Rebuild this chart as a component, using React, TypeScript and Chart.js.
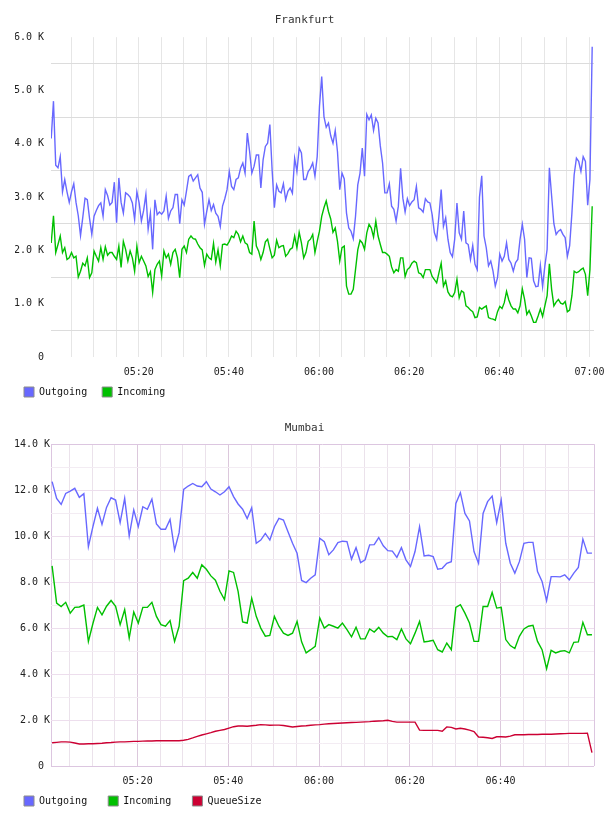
import React, { useEffect, useRef } from 'react';
import { Chart, registerables } from 'chart.js';

Chart.register(...registerables);

const FONT = '"DejaVu Sans Mono", monospace';

// ---- time axis (minutes after 05:00) ----
const frankfurtStartMinute = 0.6;
const frankfurtStepMinutes = 0.5;
const mumbaiStartMinute = 1.15;
const mumbaiStepMinutes = 1;
const timeTickLabels = ['05:20', '05:40', '06:00', '06:20', '06:40', '07:00'];
const frankfurtYTickLabels = ['0', '1.0 K', '2.0 K', '3.0 K', '4.0 K', '5.0 K', '6.0 K'];
const mumbaiYTickLabels = ['0 ', '2.0 K', '4.0 K', '6.0 K', '8.0 K', '10.0 K', '12.0 K', '14.0 K'];
const frankfurtSeriesNames = ['Outgoing', 'Incoming'];
const mumbaiSeriesNames = ['Outgoing', 'Incoming', 'QueueSize'];

// ---- Frankfurt (values in thousands) ----
const frankfurtOutgoingK = [
  4.10, 4.80, 3.60, 3.55, 3.76, 3.10, 3.33, 3.10, 2.90, 3.10,
  3.25, 2.90, 2.65, 2.28, 2.62, 2.98, 2.95, 2.60, 2.30, 2.64,
  2.75, 2.84, 2.89, 2.64, 3.14, 3.03, 2.85, 2.90, 3.28, 2.52,
  3.36, 2.90, 2.70, 3.08, 3.05, 3.00, 2.89, 2.58, 3.10, 2.89,
  2.55, 2.75, 3.05, 2.40, 2.70, 2.02, 2.95, 2.67, 2.72, 2.68,
  2.74, 3.02, 2.60, 2.74, 2.80, 3.05, 3.05, 2.50, 2.95, 2.85,
  3.11, 3.39, 3.42, 3.30, 3.36, 3.42, 3.17, 3.09, 2.49, 2.73,
  2.95, 2.75, 2.86, 2.70, 2.64, 2.45, 2.83, 2.97, 3.14, 3.48,
  3.20, 3.14, 3.33, 3.36, 3.54, 3.64, 3.45, 4.20, 3.86, 3.45,
  3.58, 3.79, 3.79, 3.17, 3.70, 3.95, 4.01, 4.36, 3.51, 2.80,
  3.23, 3.11, 3.08, 3.25, 2.95, 3.11, 3.17, 3.07, 3.73, 3.48,
  3.92, 3.83, 3.33, 3.33, 3.48, 3.54, 3.64, 3.39, 3.76, 4.70,
  5.26, 4.51, 4.31, 4.39, 4.15, 4.01, 4.25, 3.85, 3.14, 3.45,
  3.34, 2.70, 2.42, 2.36, 2.22, 2.64, 3.23, 3.45, 3.92, 3.39,
  4.55, 4.45, 4.54, 4.25, 4.48, 4.39, 3.96, 3.64, 3.08, 3.08,
  3.25, 2.83, 2.77, 2.55, 2.83, 3.54, 2.98, 2.72, 2.97, 2.84,
  2.91, 2.95, 3.20, 2.80, 2.77, 2.72, 2.97, 2.91, 2.89, 2.67,
  2.33, 2.21, 2.64, 3.14, 2.45, 2.61, 2.21, 1.96, 1.88, 2.21,
  2.89, 2.33, 2.21, 2.74, 2.14, 2.11, 1.83, 2.09, 1.74, 1.64,
  3.00, 3.40, 2.27, 2.05, 1.71, 1.80, 1.61, 1.33, 1.49, 1.93,
  1.80, 1.89, 2.14, 1.83, 1.76, 1.61, 1.77, 1.83, 2.21, 2.49,
  2.21, 1.49, 1.86, 1.85, 1.43, 1.32, 1.33, 1.72, 1.32, 1.71,
  2.02, 3.55, 3.02, 2.50, 2.30, 2.36, 2.39, 2.30, 2.24, 1.89,
  2.09, 2.70, 3.42, 3.73, 3.67, 3.48, 3.76, 3.67, 2.85, 3.33,
  5.82,
];

const frankfurtIncomingK = [
  2.14, 2.65, 1.96, 2.11, 2.27, 1.96, 2.05, 1.83, 1.86, 1.96,
  1.86, 1.89, 1.50, 1.61, 1.76, 1.71, 1.86, 1.49, 1.58, 1.99,
  1.89, 1.80, 2.05, 1.83, 2.07, 1.91, 1.96, 1.96, 1.89, 1.83,
  2.08, 1.68, 2.17, 2.02, 1.80, 1.99, 1.86, 1.61, 2.08, 1.77,
  1.89, 1.80, 1.71, 1.51, 1.60, 1.21, 1.64, 1.74, 1.80, 1.52,
  1.99, 1.86, 1.93, 1.74, 1.96, 2.02, 1.86, 1.49, 2.02, 2.08,
  1.96, 2.21, 2.27, 2.22, 2.21, 2.12, 2.05, 2.01, 1.72, 1.93,
  1.86, 1.83, 2.13, 1.78, 2.01, 1.71, 2.11, 2.12, 2.10, 2.17,
  2.27, 2.24, 2.36, 2.30, 2.16, 2.27, 2.14, 2.11, 1.96, 1.93,
  2.55, 2.08, 1.99, 1.83, 1.96, 2.16, 2.21, 2.03, 1.86, 1.91,
  2.19, 2.05, 2.08, 2.09, 1.89, 1.94, 2.02, 2.05, 2.27, 2.05,
  2.34, 2.14, 1.86, 1.96, 2.17, 2.21, 2.30, 1.96, 2.17, 2.36,
  2.64, 2.80, 2.93, 2.73, 2.59, 2.34, 2.42, 2.17, 1.80, 2.05,
  2.08, 1.33, 1.18, 1.18, 1.27, 1.64, 2.01, 2.19, 2.14, 2.02,
  2.33, 2.49, 2.42, 2.25, 2.55, 2.27, 2.11, 1.96, 1.96, 1.93,
  1.89, 1.69, 1.58, 1.64, 1.61, 1.86, 1.86, 1.51, 1.64, 1.68,
  1.76, 1.80, 1.77, 1.58, 1.56, 1.49, 1.64, 1.64, 1.64, 1.51,
  1.45, 1.39, 1.58, 1.76, 1.33, 1.43, 1.22, 1.15, 1.13, 1.21,
  1.46, 1.11, 1.24, 1.21, 0.96, 0.93, 0.88, 0.85, 0.74, 0.75,
  0.93, 0.90, 0.93, 0.96, 0.74, 0.72, 0.71, 0.69, 0.85, 0.95,
  0.91, 1.02, 1.23, 1.07, 0.96, 0.90, 0.90, 0.83, 0.96, 1.28,
  1.08, 0.80, 0.87, 0.77, 0.65, 0.65, 0.77, 0.90, 0.76, 0.96,
  1.15, 1.75, 1.27, 0.96, 1.03, 1.08, 1.01, 0.99, 1.04, 0.85,
  0.88, 1.15, 1.61, 1.58, 1.60, 1.64, 1.67, 1.55, 1.15, 1.64,
  2.83,
];

// ---- Mumbai (values in thousands) ----
const mumbaiOutgoingK = [
  12.37, 11.64, 11.38, 11.86, 11.96, 12.08, 11.69, 11.85, 9.54, 10.41,
  11.21, 10.51, 11.25, 11.67, 11.57, 10.59, 11.64, 10.01, 11.14, 10.41,
  11.28, 11.17, 11.61, 10.53, 10.30, 10.30, 10.73, 9.40, 10.15, 12.03,
  12.18, 12.29, 12.18, 12.15, 12.37, 12.05, 11.93, 11.79, 11.93, 12.15,
  11.72, 11.40, 11.17, 10.77, 11.24, 9.69, 9.83, 10.12, 9.83, 10.41,
  10.77, 10.70, 10.19, 9.69, 9.26, 8.07, 7.98, 8.17, 8.32, 9.91,
  9.76, 9.19, 9.40, 9.72, 9.78, 9.76, 9.00, 9.50, 8.85, 8.97,
  9.62, 9.63, 9.94, 9.58, 9.37, 9.35, 9.08, 9.50, 8.97, 8.68,
  9.33, 10.41, 9.14, 9.17, 9.11, 8.56, 8.60, 8.82, 8.89, 11.42,
  11.89, 10.99, 10.66, 9.33, 8.82, 10.99, 11.50, 11.74, 10.59, 11.57,
  9.69, 8.82, 8.39, 8.89, 9.69, 9.73, 9.73, 8.46, 8.03, 7.19,
  8.24, 8.24, 8.23, 8.32, 8.10, 8.39, 8.64, 9.87, 9.26, 9.26,
];

const mumbaiIncomingK = [
  8.71, 7.09, 6.94, 7.12, 6.65, 6.90, 6.92, 7.00, 5.42, 6.20,
  6.90, 6.58, 6.95, 7.20, 6.95, 6.15, 6.80, 5.57, 6.70, 6.22,
  6.90, 6.90, 7.12, 6.51, 6.15, 6.08, 6.33, 5.42, 6.08, 8.06,
  8.17, 8.42, 8.17, 8.75, 8.56, 8.27, 8.08, 7.60, 7.24, 8.49,
  8.42, 7.60, 6.27, 6.22, 7.30, 6.51, 6.00, 5.65, 5.68, 6.51,
  6.08, 5.78, 5.68, 5.78, 6.29, 5.40, 4.92, 5.06, 5.21, 6.44,
  6.00, 6.15, 6.08, 6.00, 6.22, 5.93, 5.62, 6.04, 5.53, 5.53,
  5.96, 5.83, 6.03, 5.78, 5.62, 5.64, 5.50, 5.96, 5.53, 5.32,
  5.78, 6.29, 5.40, 5.43, 5.47, 5.06, 4.96, 5.35, 5.06, 6.90,
  7.02, 6.65, 6.22, 5.42, 5.42, 6.94, 6.94, 7.55, 6.87, 6.90,
  5.50, 5.24, 5.11, 5.64, 5.96, 6.08, 6.12, 5.42, 5.06, 4.23,
  5.03, 4.92, 4.99, 5.02, 4.92, 5.38, 5.40, 6.25, 5.71, 5.71,
];

const mumbaiQueueSizeK = [
  1.01, 1.03, 1.05, 1.05, 1.04, 1.00, 0.96, 0.96, 0.97, 0.97,
  0.98, 0.99, 1.01, 1.02, 1.04, 1.05, 1.05, 1.06, 1.07, 1.07,
  1.08, 1.09, 1.09, 1.10, 1.10, 1.10, 1.10, 1.10, 1.10, 1.12,
  1.16, 1.22, 1.29, 1.35, 1.40, 1.45, 1.51, 1.55, 1.59, 1.65,
  1.71, 1.74, 1.74, 1.73, 1.75, 1.77, 1.80, 1.79, 1.77, 1.78,
  1.78, 1.76, 1.73, 1.70, 1.72, 1.74, 1.75, 1.77, 1.79, 1.80,
  1.82, 1.84, 1.85, 1.86, 1.87, 1.88, 1.89, 1.90, 1.91, 1.92,
  1.93, 1.95, 1.96, 1.97, 1.99, 1.94, 1.91, 1.91, 1.91, 1.91,
  1.91, 1.56, 1.55, 1.55, 1.55, 1.55, 1.51, 1.70, 1.68, 1.61,
  1.64, 1.61, 1.56, 1.50, 1.26, 1.25, 1.23, 1.20, 1.27, 1.27,
  1.26, 1.30, 1.36, 1.36, 1.36, 1.37, 1.37, 1.37, 1.38, 1.38,
  1.38, 1.39, 1.40, 1.41, 1.42, 1.42, 1.42, 1.42, 1.43, 0.58,
];

const COLORS = { outgoing: '#6868ff', incoming: '#00c000', queue: '#cc0033' };

function range(start: number, end: number, step: number): number[] {
  const out: number[] = [];
  for (let v = start; v <= end + 1e-9; v += step) out.push(Math.round(v * 1000) / 1000);
  return out;
}

function toPoints(values: number[], start: number, step: number) {
  return values.map((y, i) => ({ x: start + i * step, y }));
}

function timeLabel(v: number): string {
  const m = Math.round(v * 1000) / 1000;
  if (m > 0 && m % 20 === 0) return timeTickLabels[m / 20 - 1] ?? '';
  return '';
}

function legendConfig(padChars: number) {
  return {
    display: true,
    position: 'bottom' as const,
    align: 'start' as const,
    labels: {
      boxWidth: 10,
      boxHeight: 10,
      padding: 9,
      color: '#111',
      font: { family: FONT, size: 10 },
      generateLabels: (chart: any) =>
        chart.data.datasets.map((ds: any, i: number) => ({
          text: String(ds.label).padEnd(padChars, ' '),
          fillStyle: ds.borderColor,
          strokeStyle: '#8c8c8c',
          lineWidth: 1,
          hidden: false,
          datasetIndex: i,
          fontColor: '#111',
        })),
    },
  };
}

function titleConfig(text: string, bottomPad: number) {
  return {
    display: true,
    text,
    color: '#333',
    font: { family: FONT, size: 11, weight: 'normal' as const },
    padding: { top: 14, bottom: bottomPad },
  };
}

function lineDataset(label: string, color: string, data: any[]) {
  return {
    label,
    data,
    borderColor: color,
    backgroundColor: color,
    borderWidth: 1.4,
    pointRadius: 0,
    tension: 0,
    fill: false,
  };
}

function xAfterFit(s: any) {
  s.paddingLeft = 0;
  s.paddingRight = 0;
  s.height = 21;
}

function buildFrankfurt(): any {
  return {
    type: 'line',
    data: {
      datasets: [
        lineDataset(frankfurtSeriesNames[0], COLORS.outgoing, toPoints(frankfurtOutgoingK, frankfurtStartMinute, frankfurtStepMinutes)),
        lineDataset(frankfurtSeriesNames[1], COLORS.incoming, toPoints(frankfurtIncomingK, frankfurtStartMinute, frankfurtStepMinutes)),
      ],
    },
    options: {
      animation: false,
      responsive: false,
      devicePixelRatio: 1,
      events: [],
      layout: { padding: { left: 15, right: 14, top: 0, bottom: 1 } },
      plugins: {
        title: titleConfig('Frankfurt', 10),
        legend: legendConfig(9),
        tooltip: { enabled: false },
      },
      scales: {
        x: {
          type: 'linear',
          min: 0.55,
          max: 121.0,
          afterBuildTicks: (s: any) => {
            s.ticks = range(5, 120, 5).map((value) => ({ value }));
          },
          afterFit: xAfterFit,
          border: { display: false },
          grid: { color: '#e6e6e6', lineWidth: 1, drawTicks: false },
          ticks: {
            autoSkip: false,
            maxRotation: 0,
            minRotation: 0,
            padding: 9,
            color: '#222',
            font: { family: FONT, size: 10 },
            callback: (v: any) => timeLabel(Number(v)),
          },
        },
        y: {
          type: 'linear',
          min: 0,
          max: 6,
          afterBuildTicks: (s: any) => {
            s.ticks = range(0, 6, 0.5).map((value) => ({ value }));
          },
          afterFit: (s: any) => {
            s.width = 36;
          },
          border: { display: false },
          grid: {
            drawTicks: false,
            lineWidth: 1,
            color: (ctx: any) =>
              ctx.tick && Number.isInteger(ctx.tick.value) ? 'rgba(0,0,0,0)' : '#dcdcdc',
          },
          ticks: {
            autoSkip: false,
            padding: 7,
            color: '#222',
            font: { family: FONT, size: 10 },
            callback: (v: any) => {
              const n = Number(v);
              return Number.isInteger(n) ? frankfurtYTickLabels[n] ?? '' : '';
            },
          },
        },
      },
    },
  };
}

const MUMBAI_X_MIN = 0.91;
const MUMBAI_X_MAX = 120.6;

function buildMumbai(): any {
  const frame = '#dcc6e0';
  return {
    type: 'line',
    data: {
      datasets: [
        lineDataset(mumbaiSeriesNames[0], COLORS.outgoing, toPoints(mumbaiOutgoingK, mumbaiStartMinute, mumbaiStepMinutes)),
        lineDataset(mumbaiSeriesNames[1], COLORS.incoming, toPoints(mumbaiIncomingK, mumbaiStartMinute, mumbaiStepMinutes)),
        lineDataset(mumbaiSeriesNames[2], COLORS.queue, toPoints(mumbaiQueueSizeK, mumbaiStartMinute, mumbaiStepMinutes)),
      ],
    },
    options: {
      animation: false,
      responsive: false,
      devicePixelRatio: 1,
      events: [],
      layout: { padding: { left: 15, right: 14, top: 0, bottom: 0 } },
      plugins: {
        title: titleConfig('Mumbai', 9),
        legend: legendConfig(10),
        tooltip: { enabled: false },
      },
      scales: {
        x: {
          type: 'linear',
          min: MUMBAI_X_MIN,
          max: MUMBAI_X_MAX,
          afterBuildTicks: (s: any) => {
            s.ticks = [MUMBAI_X_MIN, ...range(5, 115, 5), MUMBAI_X_MAX].map((value) => ({ value }));
          },
          afterFit: xAfterFit,
          border: { display: false },
          grid: {
            drawTicks: false,
            lineWidth: 1,
            color: (ctx: any) => {
              const v = ctx.tick ? ctx.tick.value : 0;
              if (v === MUMBAI_X_MIN || v === MUMBAI_X_MAX) return frame;
              return v % 20 === 0 ? '#dcc8dc' : '#ebe2eb';
            },
          },
          ticks: {
            autoSkip: false,
            maxRotation: 0,
            minRotation: 0,
            padding: 9,
            color: '#222',
            font: { family: FONT, size: 10 },
            callback: (v: any) => timeLabel(Number(v)),
          },
        },
        y: {
          type: 'linear',
          min: 0,
          max: 14,
          afterBuildTicks: (s: any) => {
            s.ticks = range(0, 14, 1).map((value) => ({ value }));
          },
          afterFit: (s: any) => {
            s.width = 36;
          },
          border: { display: false },
          grid: {
            drawTicks: false,
            lineWidth: 1,
            color: (ctx: any) => {
              const v = ctx.tick ? ctx.tick.value : 0;
              if (v === 0 || v === 14) return frame;
              return v % 2 === 0 ? '#eddeed' : '#f3ecf3';
            },
          },
          ticks: {
            autoSkip: false,
            padding: 1,
            color: '#222',
            font: { family: FONT, size: 10 },
            callback: (v: any) => {
              const n = Number(v);
              return n % 2 === 0 ? mumbaiYTickLabels[n / 2] ?? '' : '';
            },
          },
        },
      },
    },
  };
}

function LineChart({ build }: { build: () => any }) {
  const ref = useRef<HTMLCanvasElement>(null);
  useEffect(() => {
    const chart = new Chart(ref.current as HTMLCanvasElement, build());
    return () => chart.destroy();
  }, [build]);
  return (
    <canvas
      ref={ref}
      width={608}
      height={408}
      style={{ display: 'block', width: 608, height: 408 }}
    />
  );
}

export default function App() {
  useEffect(() => {
    document.body.style.margin = '0';
  }, []);
  return (
    <div style={{ width: 608, height: 816, background: '#ffffff', margin: 0 }}>
      <LineChart build={buildFrankfurt} />
      <LineChart build={buildMumbai} />
    </div>
  );
}
